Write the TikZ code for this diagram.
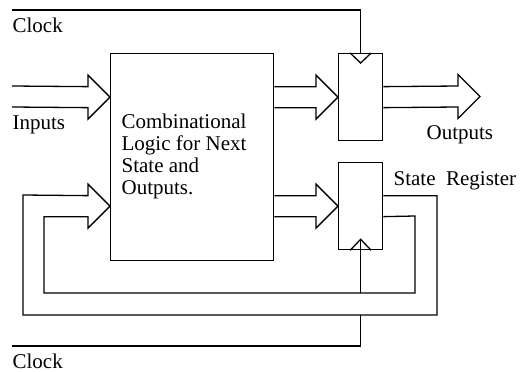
\documentclass[tikz,border=0pt]{standalone}
\usepackage{fontspec}
\setmainfont{Liberation Serif}
\usetikzlibrary{calc}

% hollow bus arrow from a tail point to a tip point (same height)
\newcommand{\busarrow}[2]{%
  \draw ($(#1)+(0,-10.5)$) -- ($(#2)+(-22,-10.5)$) -- ++(0,-11.5) -- (#2)
    -- ++(-22,22) -- ++(0,-11.5) -- ($(#1)+(0,10.5)$);}

\begin{document}
\begin{tikzpicture}[x=1pt, y=-1pt, line width=1.3pt,
  every node/.style={font=\fontsize{21}{22}\selectfont, inner sep=0pt},
  reg/.style={draw, minimum width=44pt, minimum height=87pt, anchor=north west},
  lbl/.style={anchor=base west}]
\useasboundingbox (0,0) rectangle (520,372);

% logic block and the two registers
\node[draw, minimum width=163pt, minimum height=207pt, anchor=north west] (logic) at (110,53) {};
\node[reg] (outreg) at (338,53) {};
\node[reg] (statereg) at (338,162) {};
\node[lbl, align=left] (logictext) at (121,194) {Combinational\\Logic for Next\\State and\\Outputs.};

% clock edge marks
\draw (outreg.north) ++(-10.5,0) -- ++(10.5,10) -- ++(10.5,-10);
\coordinate (clktip) at ($(statereg.south)+(0,-11)$);
\draw (statereg.south) ++(-10.5,0) -- (clktip) -- ++(10.5,11);

% bus arrows
\coordinate (intail) at (12,96.5);
\coordinate (intip) at (logic.west |- outreg.west);
\coordinate (midtail) at (logic.east |- outreg.west);
\coordinate (outtip) at (480,96.5);
\coordinate (sttail) at (logic.east |- statereg.west);
\busarrow{intail}{intip}
\busarrow{midtail}{outreg.west}
\busarrow{outreg.east}{outtip}
\busarrow{sttail}{statereg.west}

% state feedback back into the logic
\coordinate (fbtip) at (logic.west |- statereg.east);
\coordinate (fbouter) at (437,315);
\coordinate (fbinner) at (415,293);
\draw ($(statereg.east)+(0,-10.5)$) -| (fbouter) -| (23,195)
  -- ($(fbtip)+(-22,-10.5)$) -- ++(0,-11.5) -- (fbtip) -- ++(-22,22) -- ++(0,-11.5)
  -| (44,293) -| (fbinner |- 0,216) -- ($(statereg.east)+(0,10.5)$);

% clock lines
\coordinate (clkin) at (12,10);
\coordinate (clkin2) at (12,346);
\draw (clkin) -| (outreg.north);
\draw (clkin2) -| (statereg.south |- fbouter);
\draw (statereg.south |- fbinner) -- (clktip);

% labels
\node[lbl] (clktop) at (12,32) {Clock};
\node[lbl] (inlbl) at (12,129) {Inputs};
\node[lbl] (outlbl) at (426,139) {Outputs};
\node[lbl] (statelbl) at (393,185) {State\ \ Register};
\node[lbl] (clkbot) at (12,368) {Clock};
\end{tikzpicture}
\end{document}
